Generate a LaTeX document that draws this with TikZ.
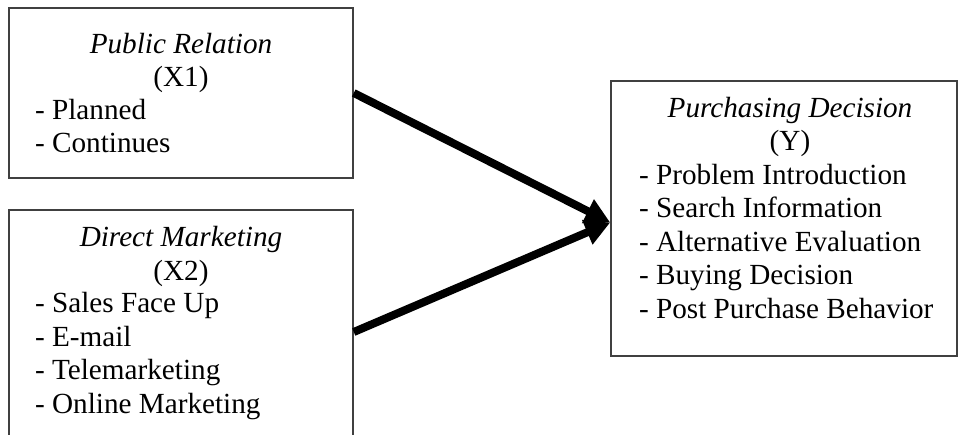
\documentclass[tikz,border=0pt]{standalone}
\usepackage{fontspec}
\setmainfont{Liberation Serif}
\usetikzlibrary{arrows.meta, positioning}

\begin{document}
\begin{tikzpicture}[
    x=0.5pt, y=0.5pt,
    varbox/.style={rectangle, draw=black!75, line width=0.75pt, inner sep=0pt, minimum width=172pt},
    title/.style={align=center, anchor=base, font=\fontsize{14.6pt}{16.7pt}\selectfont},
    items/.style={align=left, anchor=base west, font=\fontsize{14.6pt}{16.7pt}\selectfont},
    link/.style={-{Triangle[length=12.5pt, width=12.5pt]}, line width=4pt}
    ]
    \clip (0,0) rectangle (958,434);

    % Public relation
    \node[varbox, minimum height=85pt] (x1) at (181,341) {};
    \node[title] (x1title) at (181,347.5) {\textit{Public Relation}\\(X1)};
    \node[items] (x1items) at (28,281) {- Planned\\- Continues};

    % Direct marketing
    \node[varbox, minimum height=122pt] (x2) at (181,102) {};
    \node[title] (x2title) at (181,154) {\textit{Direct Marketing}\\(X2)};
    \node[items] (x2items) at (28,21) {- Sales Face Up\\- E-mail\\- Telemarketing\\- Online Marketing};

    % Purchasing decision
    \node[varbox, minimum width=173pt, minimum height=137.5pt] (y) at (784,215.5) {};
    \node[title] (ytitle) at (790,283) {\textit{Purchasing Decision}\\(Y)};
    \node[items] (yitems) at (632,116) {- Problem Introduction\\- Search Information\\- Alternative Evaluation\\- Buying Decision\\- Post Purchase Behavior};

    % Links
    \draw[link] (x1.east) -- ([yshift=-2pt]y.west);
    \draw[link] (x2.east) -- ([yshift=-2pt]y.west);

\end{tikzpicture}
\end{document}
